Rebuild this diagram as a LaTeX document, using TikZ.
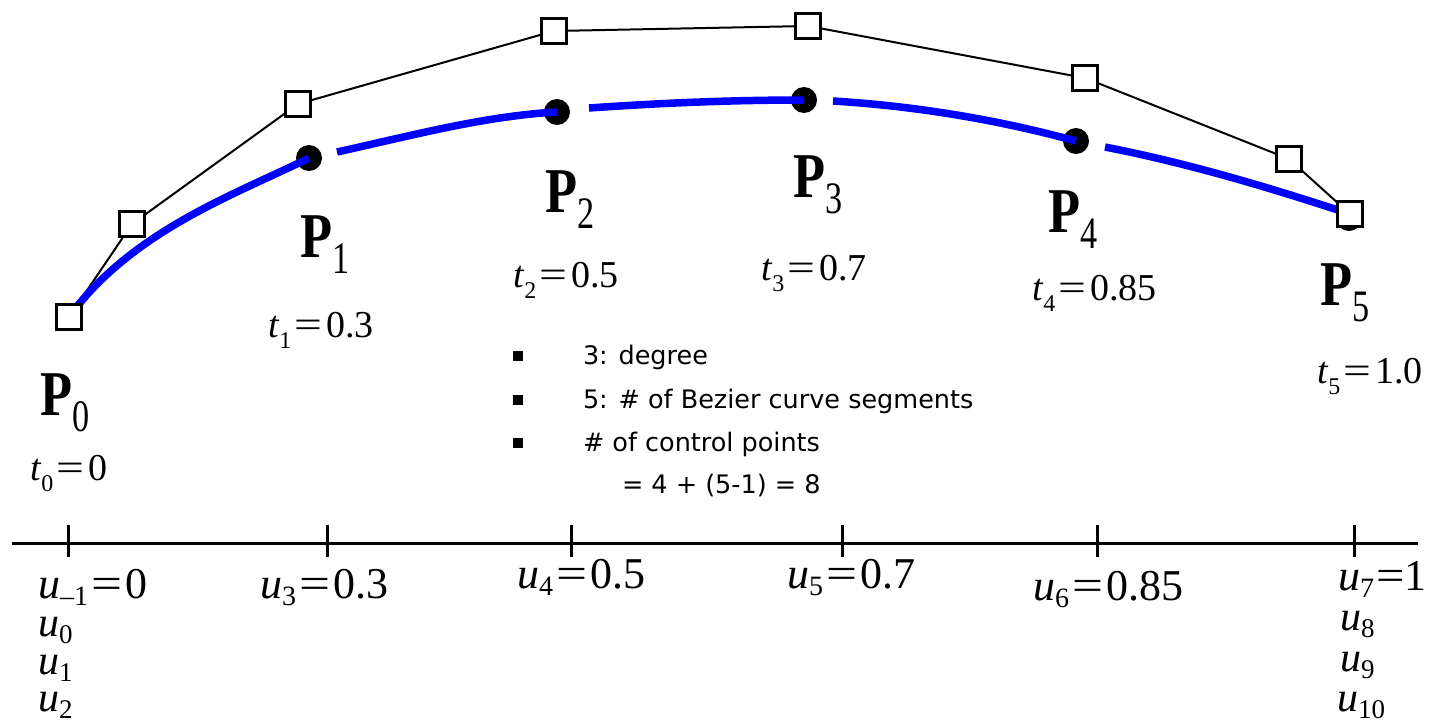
\documentclass[tikz,border=0pt]{standalone}
\usepackage{fontspec}
\usepackage{graphicx}
\setmainfont{Liberation Serif}
\newfontfamily\sansf{DejaVu Sans}
\newcommand{\Plab}[1]{\scalebox{0.92}[1.12]{\fontsize{57}{57}\selectfont\bfseries P}\raisebox{-16pt}{\scalebox{0.95}[1.25]{\fontsize{36}{36}\selectfont #1}}}
\newcommand{\Tlab}[3]{\fontsize{38}{38}\selectfont\textit{#1}\raisebox{-11pt}{\fontsize{24}{24}\selectfont #2}\hspace{3pt}\scalebox{1.3}[1]{=}\hspace{4pt}#3}
\newcommand{\Ulab}[3]{\fontsize{44}{44}\selectfont\textit{#1}\raisebox{-7pt}{\fontsize{28}{28}\selectfont #2}\hspace{3pt}\scalebox{1.25}[1]{=}\hspace{3pt}#3}
\newcommand{\Ulabtight}[3]{\fontsize{44}{44}\selectfont\textit{#1}\raisebox{-7pt}{\fontsize{28}{28}\selectfont #2}\hspace{2pt}\scalebox{1.15}[1]{=}\hspace{0pt}#3}
\newcommand{\Uonly}[1]{\fontsize{42}{42}\selectfont\textit{u}\raisebox{-7pt}{\fontsize{27}{27}\selectfont #1}}
\newcommand{\Btxt}[1]{{\sansf\fontsize{25.5}{25.5}\selectfont #1}}
\begin{document}
\begin{tikzpicture}[x=1pt,y=-1pt,
  ctrlbox/.style={draw=black, line width=3.5pt, fill=white, rectangle, minimum size=25pt, inner sep=0pt},
  joint/.style={circle, fill=black, minimum size=26pt, inner sep=0pt},
  poly/.style={line width=2pt, black},
  seg/.style={draw={rgb,255:red,0;green,0;blue,255}, line width=7.5pt},
  axisline/.style={line width=3pt},
  tickline/.style={line width=3pt},
  lbl/.style={anchor=base west, inner sep=0pt, outer sep=0pt},
  bul/.style={fill=black, rectangle, minimum size=10pt, inner sep=0pt}]
\useasboundingbox (0,0) rectangle (1430,725);
% control points
\coordinate (S0) at (69,317);
\coordinate (S1) at (132,224);
\coordinate (S2) at (298,104);
\coordinate (S3) at (554,31);
\coordinate (S4) at (808,26);
\coordinate (S5) at (1085,78);
\coordinate (S6) at (1289,159);
\coordinate (S7) at (1350,214);
% control polygon
\draw[poly] (S0) -- (S1) -- (S2) -- (S3) -- (S4) -- (S5) -- (S6) -- (S7);
% joints
\node[joint] (P1) at (309,158) {};
\node[joint] (P2) at (557,112) {};
\node[joint] (P3) at (804,100) {};
\node[joint] (P4) at (1076,141) {};
\node[joint] (P5) at (1349,218) {};
% gap starts
\coordinate (g1) at (337,152);
\coordinate (g2) at (589,108);
\coordinate (g3) at (833,101);
\coordinate (g4) at (1105,147);
% blue curve segments
\draw[seg] (S0) .. controls (132,230) and (239,193) .. (P1.center);
\draw[seg] (g1) .. controls (410,136) and (484,116) .. (P2.center);
\draw[seg] (g2) .. controls (661,103) and (732,100) .. (P3.center);
\draw[seg] (g3) .. controls (914,106) and (995,119) .. (P4.center);
\draw[seg] (g4) .. controls (1187,163) and (1268,187) .. (S7);
% control point squares
\foreach \i in {0,...,7} { \node[ctrlbox] (Q\i) at (S\i) {}; }
% P labels
\node[lbl] (LP0) at (40,415) {\Plab{0}};
\node[lbl] (LP1) at (300,257) {\Plab{1}};
\node[lbl] (LP2) at (545,212) {\Plab{2}};
\node[lbl] (LP3) at (793,197) {\Plab{3}};
\node[lbl] (LP4) at (1048,232) {\Plab{4}};
\node[lbl] (LP5) at (1320,305) {\Plab{5}};
% t labels
\node[lbl] (T0) at (30,480) {\Tlab{t}{0}{0}};
\node[lbl] (T1) at (268,337) {\Tlab{t}{1}{0.3}};
\node[lbl] (T2) at (513,287) {\Tlab{t}{2}{0.5}};
\node[lbl] (T3) at (761,280) {\Tlab{t}{3}{0.7}};
\node[lbl] (T4) at (1032,300) {\Tlab{t}{4}{0.85}};
\node[lbl] (T5) at (1317,383) {\Tlab{t}{5}{1.0}};
% bullets
\node[bul] (B1) at (518,356) {};
\node[bul] (B2) at (518,400) {};
\node[bul] (B3) at (518,443) {};
\node[lbl] (X1) at (583,364) {\Btxt{3: degree}};
\node[lbl] (X2) at (583,408) {\Btxt{5: \# of Bezier curve segments}};
\node[lbl] (X3) at (583,451) {\Btxt{\# of control points}};
\node[lbl] (X4) at (622,493) {\Btxt{= 4 + (5-1) = 8}};
% axis
\coordinate (AL) at (12,543);
\coordinate (AR) at (1418,543);
\draw[axisline] (AL) -- (AR);
\foreach \n/\x in {0/68,1/327,2/571,3/842,4/1097,5/1354} {
  \coordinate (K\n t) at (\x,525);
  \coordinate (K\n b) at (\x,557);
  \draw[tickline] (K\n t) -- (K\n b);
}
% u labels
\node[lbl] (U0) at (38,598) {\Ulab{u}{–1}{0}};
\node[lbl] (U1) at (38,636) {\Uonly{0}};
\node[lbl] (U2) at (38,674) {\Uonly{1}};
\node[lbl] (U3) at (38,711) {\Uonly{2}};
\node[lbl] (U4) at (260,598) {\Ulab{u}{3}{0.3}};
\node[lbl] (U5) at (517,588) {\Ulab{u}{4}{0.5}};
\node[lbl] (U6) at (787,588) {\Ulab{u}{5}{0.7}};
\node[lbl] (U7) at (1033,600) {\Ulab{u}{6}{0.85}};
\node[lbl] (U8) at (1338,590) {\Ulabtight{u}{7}{1}};
\node[lbl] (U9) at (1340,630) {\Uonly{8}};
\node[lbl] (U10) at (1340,671) {\Uonly{9}};
\node[lbl] (U11) at (1337,711) {\Uonly{10}};
\end{tikzpicture}
\end{document}
